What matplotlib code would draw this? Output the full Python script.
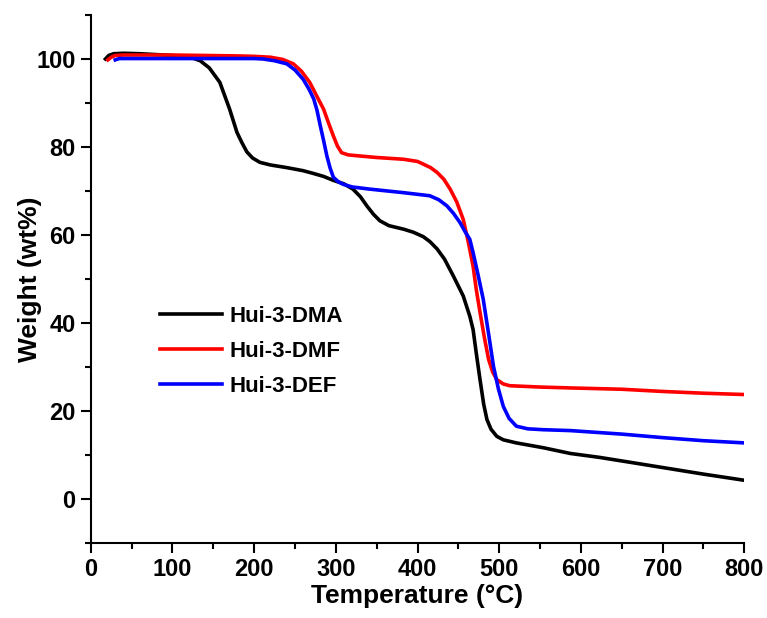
import numpy as np
import matplotlib
matplotlib.use("Agg")
import matplotlib.pyplot as plt
from matplotlib.ticker import MultipleLocator

# TGA data
dma_t = [18, 22, 28, 40, 60, 80, 100, 115, 125, 134, 145, 158, 170, 179, 185, 191, 198, 207,
         220, 240, 260, 272, 285, 297, 310, 321, 330, 338, 346, 354, 365, 383, 395, 407, 415,
         424, 433, 444, 456, 464, 468, 472, 476.5, 481, 485, 490, 497, 505, 521, 554, 587,
         623, 660, 700, 750, 800]
dma_w = [100, 100.8, 101.2, 101.3, 101.2, 101.0, 100.8, 100.5, 100.2, 99.6, 98.0, 94.7, 88.6,
         83.3, 81.0, 78.9, 77.5, 76.5, 75.9, 75.3, 74.6, 74.0, 73.3, 72.4, 71.6, 70.4, 68.7,
         66.6, 64.7, 63.2, 62.1, 61.3, 60.6, 59.6, 58.5, 56.8, 54.5, 50.6, 46.1, 41.5, 38.5,
         33.0, 27.1, 21.5, 18.0, 15.8, 14.2, 13.4, 12.7, 11.6, 10.3, 9.4, 8.3, 7.1, 5.6, 4.2]

dmf_t = [21, 25, 30, 40, 60, 100, 140, 180, 200, 220, 235, 248, 258, 268, 276, 285, 291, 297,
         302, 307, 315, 326, 350, 383, 400, 407, 416, 424, 432, 440, 448, 456, 462, 468, 472,
         476.5, 482, 487, 492, 497, 505, 513, 550, 587, 650, 700, 750, 800]
dmf_w = [99.8, 100.4, 100.8, 100.9, 100.9, 100.9, 100.8, 100.7, 100.6, 100.4, 99.9, 98.9, 97.2,
         94.7, 91.8, 88.6, 85.5, 82.5, 80.2, 78.7, 78.2, 78.0, 77.6, 77.2, 76.7, 76.1, 75.3,
         74.2, 72.7, 70.4, 67.5, 63.5, 58.5, 52.9, 47.5, 42.4, 36.5, 31.7, 28.8, 27.1, 26.1,
         25.7, 25.4, 25.2, 24.9, 24.4, 24.0, 23.7]

def_t = [30, 35, 45, 100, 150, 200, 211, 225, 240, 250, 260, 267, 273, 277, 281, 285, 289, 293,
         297, 303, 309, 320, 342, 383, 415, 426, 436, 444, 452, 458, 464, 468, 474, 480.5, 487,
         493, 499, 505, 512, 521, 535, 554, 587, 650, 700, 750, 800]
def_w = [99.8, 100.1, 100.1, 100.1, 100.1, 100.1, 100.0, 99.6, 98.9, 97.5, 95.4, 93.2, 90.9,
         88.3, 84.8, 81.5, 78.0, 75.2, 73.1, 72.1, 71.5, 70.9, 70.4, 69.6, 68.9, 68.0, 66.6,
         64.9, 62.8, 60.8, 59.0, 56.0, 51.0, 45.3, 37.5, 30.1, 25.0, 21.0, 18.3, 16.5, 15.9,
         15.7, 15.5, 14.7, 13.9, 13.2, 12.7]

labels = ["Hui-3-DMA", "Hui-3-DMF", "Hui-3-DEF"]

plt.rcParams['font.family'] = ['Liberation Sans', 'DejaVu Sans']
plt.rcParams['font.weight'] = 'bold'

fig = plt.figure(figsize=(7.67, 6.18), dpi=100)
ax = fig.add_axes([0.1183, 0.1218, 0.8521, 0.8539])

ax.plot(dma_t, dma_w, color="black", lw=2.6, label=labels[0])
ax.plot(dmf_t, dmf_w, color="red", lw=2.6, label=labels[1])
ax.plot(def_t, def_w, color="blue", lw=2.6, label=labels[2])

ax.set_xlim(0, 800)
ax.set_ylim(-10, 110)
ax.xaxis.set_major_locator(MultipleLocator(100))
ax.xaxis.set_minor_locator(MultipleLocator(50))
ax.yaxis.set_major_locator(MultipleLocator(20))
ax.yaxis.set_minor_locator(MultipleLocator(10))

# only left/bottom axes, ticks outward
ax.spines['top'].set_visible(False)
ax.spines['right'].set_visible(False)
for s in ['left', 'bottom']:
    ax.spines[s].set_linewidth(1.5)
ax.tick_params(which='major', direction='out', length=7, width=1.5, labelsize=17, pad=4)
ax.tick_params(which='minor', direction='out', length=4, width=1.5)
for lbl in ax.get_xticklabels() + ax.get_yticklabels():
    lbl.set_fontweight('bold')

ax.set_xlabel("Temperature (°C)", fontsize=19, fontweight='bold', labelpad=2)
ax.set_ylabel("Weight (wt%)", fontsize=19, fontweight='bold')
ax.yaxis.set_label_coords(-0.075, 0.5)

leg = ax.legend(loc='upper left', bbox_to_anchor=(0.075, 0.486), frameon=False,
                prop={'size': 16, 'weight': 'bold'}, handlelength=2.8, handletextpad=0.35,
                labelspacing=0.62)

fig.savefig("out.png", dpi=100)
